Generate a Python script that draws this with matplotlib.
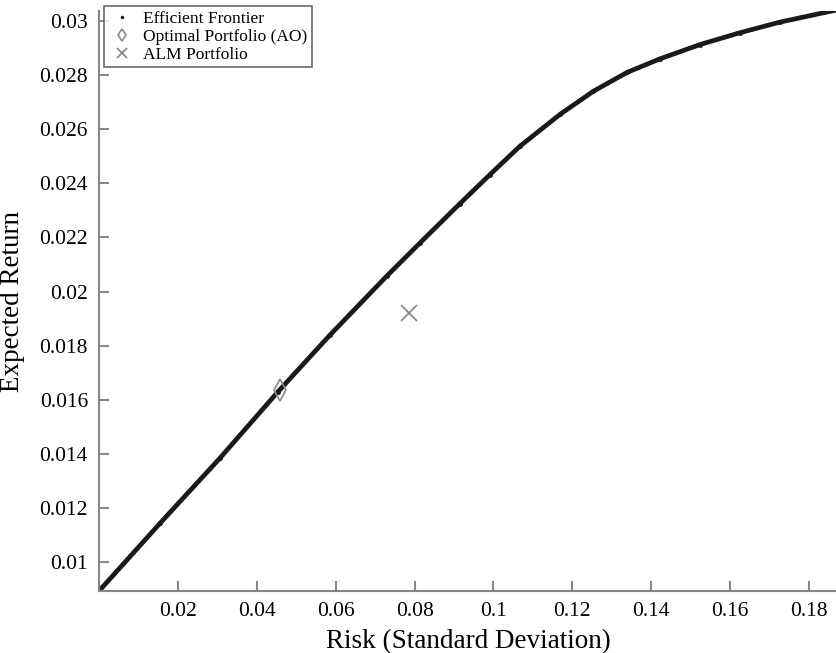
import numpy as np
import matplotlib
matplotlib.use("Agg")
import matplotlib.pyplot as plt
from matplotlib.ticker import FuncFormatter

# values
risk = [0.0, 0.0155, 0.0307, 0.0454, 0.0586, 0.0730, 0.0814, 0.0915, 0.0991,
        0.1067, 0.1169, 0.1253, 0.1339, 0.1422, 0.1524, 0.1626, 0.1727, 0.1871]
ret = [0.00893, 0.01144, 0.01385, 0.01630, 0.01840, 0.02058, 0.02180, 0.02325,
       0.02432, 0.02537, 0.02655, 0.02740, 0.02810, 0.02860, 0.02913, 0.02957,
       0.02996, 0.03041]
ao_risk, ao_ret = [0.0459], [0.01637]
alm_risk, alm_ret = [0.0786], [0.01919]

xticks = [0.02, 0.04, 0.06, 0.08, 0.1, 0.12, 0.14, 0.16, 0.18]
yticks = [0.01, 0.012, 0.014, 0.016, 0.018, 0.02, 0.022, 0.024, 0.026, 0.028, 0.03]

serif = 'Liberation Serif'
plt.rcParams['font.family'] = 'serif'
plt.rcParams['font.serif'] = [serif]
grey = '#888888'

fig = plt.figure(figsize=(8.37, 6.53), dpi=100)
ax = fig.add_axes([0.1183, 0.0949, 0.8817, 0.8883])

ax.plot(risk, ret, '-', color='#1a1a1a', lw=3.4, solid_capstyle='round',
        solid_joinstyle='round')
ax.plot(risk, ret, '.', color='#1a1a1a', ms=5, ls='none', label='Efficient Frontier')
ax.plot(ao_risk, ao_ret, 'd', mfc='none', mec=grey, ms=11, mew=1.2, ls='none',
        label='Optimal Portfolio (AO)')
ax.plot(alm_risk, alm_ret, 'x', color=grey, ms=11, mew=1.3, ls='none',
        label='ALM Portfolio')

ax.set_xlim(0, 0.1871)
ax.set_ylim(0.00893, 0.03037)
ax.set_xticks(xticks)
ax.set_yticks(yticks)
fmt = FuncFormatter(lambda v, p: '%g' % round(v, 4))
ax.xaxis.set_major_formatter(fmt)
ax.yaxis.set_major_formatter(fmt)

for s in ['top', 'right']:
    ax.spines[s].set_visible(False)
for s in ['left', 'bottom']:
    ax.spines[s].set_color(grey)
    ax.spines[s].set_linewidth(1.5)
ax.tick_params(direction='in', length=7, width=1.5, color=grey,
               labelsize=15.5, pad=8)

ax.set_xlabel('Risk (Standard Deviation)', fontsize=19.5, labelpad=6)
ax.set_ylabel('Expected Return', fontsize=19.5, labelpad=10)

leg = ax.legend(loc='upper left', bbox_to_anchor=(0.007, 1.008),
                prop={'size': 12.5},
                frameon=True, fancybox=False, borderpad=0.25, labelspacing=0.1,
                handletextpad=0.5, handlelength=1.5, borderaxespad=0.0,
                markerscale=0.6)
leg.get_frame().set_edgecolor('#444444')
leg.get_frame().set_linewidth(1.2)

fig.savefig('out.png', dpi=100)
